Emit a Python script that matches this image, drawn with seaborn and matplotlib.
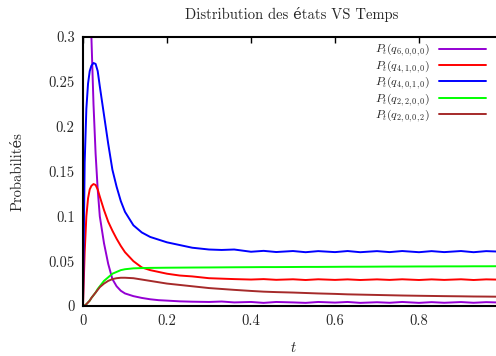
import numpy as np
import pandas as pd
import matplotlib
matplotlib.use("Agg")
import matplotlib.pyplot as plt
import seaborn as sns

# ---- data ----
t = [0, 0.004, 0.008, 0.012, 0.016, 0.02, 0.025, 0.03, 0.035, 0.04,
     0.05, 0.06, 0.07, 0.08, 0.09, 0.10, 0.12, 0.14, 0.16, 0.18, 0.20,
     0.23, 0.26, 0.30, 0.33, 0.36, 0.40, 0.43, 0.46, 0.50, 0.53, 0.56,
     0.60, 0.63, 0.66, 0.70, 0.73, 0.76, 0.80, 0.83, 0.86, 0.90, 0.93,
     0.96, 1.00]

p_6000 = [1.0, 0.80, 0.63, 0.50, 0.39, 0.30, 0.225, 0.17, 0.13, 0.10,
          0.07, 0.047, 0.03, 0.022, 0.017, 0.014, 0.011, 0.009, 0.0075, 0.0065, 0.006,
          0.0052, 0.0048, 0.0045, 0.005, 0.004, 0.0045, 0.0035, 0.0045, 0.004, 0.0035, 0.0045,
          0.0038, 0.0045, 0.0035, 0.0042, 0.0036, 0.0045, 0.0035, 0.0043, 0.0036, 0.0044, 0.0036,
          0.0043, 0.0038]

p_4100 = [0.0, 0.06, 0.10, 0.12, 0.13, 0.134, 0.136, 0.135, 0.13, 0.122,
          0.107, 0.094, 0.084, 0.075, 0.067, 0.060, 0.050, 0.043, 0.040, 0.038, 0.036,
          0.034, 0.033, 0.031, 0.0305, 0.030, 0.0295, 0.0300, 0.0292, 0.0298, 0.0290, 0.0298,
          0.0291, 0.0297, 0.0290, 0.0297, 0.0291, 0.0298, 0.0290, 0.0297, 0.0291, 0.0298, 0.0290,
          0.0297, 0.0293]

p_4010 = [0.0, 0.16, 0.22, 0.248, 0.262, 0.268, 0.271, 0.270, 0.262, 0.245,
          0.213, 0.181, 0.152, 0.133, 0.117, 0.105, 0.090, 0.082, 0.077, 0.074, 0.071,
          0.068, 0.065, 0.063, 0.0625, 0.063, 0.0605, 0.0615, 0.0602, 0.0613, 0.0600, 0.0612,
          0.0601, 0.0613, 0.0600, 0.0612, 0.0601, 0.0613, 0.0600, 0.0612, 0.0601, 0.0613, 0.0600,
          0.0612, 0.0605]

p_2200 = [0.0, 0.0005, 0.002, 0.004, 0.006, 0.009, 0.012, 0.015, 0.019, 0.022,
          0.028, 0.032, 0.036, 0.038, 0.040, 0.041, 0.042, 0.0423, 0.0425, 0.0426, 0.0427,
          0.0428, 0.0429, 0.0430, 0.0431, 0.0432, 0.0433, 0.0434, 0.0434, 0.0435, 0.0436, 0.0436,
          0.0437, 0.0438, 0.0438, 0.0439, 0.0440, 0.0440, 0.0441, 0.0441, 0.0442, 0.0442, 0.0443,
          0.0443, 0.0444]

p_2002 = [0.0, 0.0005, 0.002, 0.004, 0.006, 0.009, 0.012, 0.015, 0.018, 0.021,
          0.025, 0.028, 0.030, 0.031, 0.0315, 0.0315, 0.031, 0.0295, 0.028, 0.0265, 0.025,
          0.0235, 0.022, 0.020, 0.019, 0.018, 0.0168, 0.016, 0.0155, 0.015, 0.0145, 0.014,
          0.0135, 0.013, 0.0127, 0.0123, 0.012, 0.0117, 0.0114, 0.0112, 0.011, 0.0108, 0.0106,
          0.0105, 0.0103]

labels = [r"$P_t(q_{6,0,0,0})$", r"$P_t(q_{4,1,0,0})$", r"$P_t(q_{4,0,1,0})$",
          r"$P_t(q_{2,2,0,0})$", r"$P_t(q_{2,0,0,2})$"]
colors = ["#9400D3", "#FF0000", "#0000FF", "#00FF00", "#A52A2A"]
series = [p_6000, p_4100, p_4010, p_2200, p_2002]

xticks = [0, 0.2, 0.4, 0.6, 0.8]
xtick_labels = ["0", "0.2", "0.4", "0.6", "0.8"]
yticks = [0, 0.05, 0.1, 0.15, 0.2, 0.25, 0.3]
ytick_labels = ["0", "0.05", "0.1", "0.15", "0.2", "0.25", "0.3"]

title = "Distribution des états VS Temps"
ylabel = "Probabilités"
xlabel = r"$t$"

# ---- style ----
sns.set_style("white")
plt.rcParams["font.family"] = ["cmr10", "DejaVu Serif"]
plt.rcParams["mathtext.fontset"] = "cm"
plt.rcParams["axes.formatter.use_mathtext"] = True
plt.rcParams["axes.unicode_minus"] = False

fig = plt.figure(figsize=(4.96, 3.56), dpi=100)
ax = fig.add_axes([83 / 496, 50 / 356, 420 / 496, 269 / 356])

for vals, lab, col in zip(series, labels, colors):
    df = pd.DataFrame({"t": t, "p": vals})
    sns.lineplot(data=df, x="t", y="p", ax=ax, color=col, label=lab,
                 linewidth=1.4, sort=False, estimator=None)

ax.set_xlim(0, 1)
ax.set_ylim(0, 0.3)
ax.set_xticks(xticks)
ax.set_xticklabels(xtick_labels)
ax.set_yticks(yticks)
ax.set_yticklabels(ytick_labels)
ax.tick_params(direction="in", top=True, right=True, length=4, width=1,
               labelsize=10.5, pad=6, color="black")
for s in ax.spines.values():
    s.set_linewidth(1.5)
    s.set_color("black")

ax.set_xlabel(xlabel, fontsize=10.5, labelpad=9)
ax.set_ylabel(ylabel, fontsize=10.5, labelpad=17)
fig.text(292 / 496, 1 - 14 / 356, title, fontsize=10.5, ha="center", va="center")

leg = ax.legend(loc="upper right", bbox_to_anchor=(486 / 496, 1 - 42 / 356),
                bbox_transform=fig.transFigure, frameon=False, markerfirst=False,
                fontsize=8.5, handlelength=4.0, labelspacing=0.0,
                handletextpad=0.7, borderaxespad=0, borderpad=0)

fig.savefig("out.png", dpi=100)
